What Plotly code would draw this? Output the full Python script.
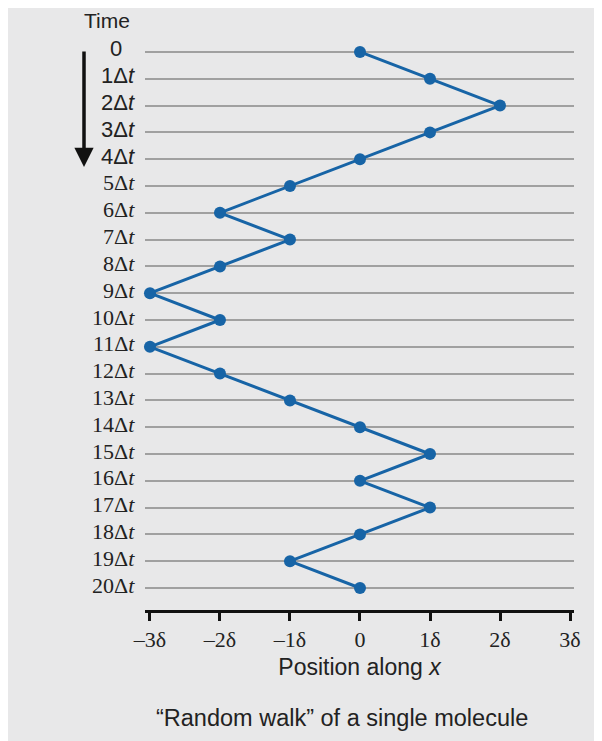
import plotly.graph_objects as go

# ---- data ----
time_steps = list(range(21))
positions = [0, 1, 2, 1, 0, -1, -2, -1, -2, -3, -2, -3, -2, -1, 0, 1, 0, 1, 0, -1, 0]
time_labels = ["0"] + [f"{i}Δ<i>t</i>" for i in range(1, 21)]
x_tick_vals = [-3, -2, -1, 0, 1, 2, 3]
x_tick_text = ["–3δ", "–2δ", "–1δ", "0", "1δ", "2δ", "3δ"]

SANS = "Liberation Sans, Arial, sans-serif"
SERIF = "Liberation Serif, Times New Roman, serif"
BG = "#e8e8e9"
BLUE = "#1764a6"

OFF = 8  # page body margin
W, H = 602 - OFF, 741 - OFF
L, R, T, B = 137, 28, 37, 131
pw = W - L - R
ph = H - T - B

def px_x(px):
    return (px - OFF - L) / pw

def px_y(py):
    return (H - B - (py - OFF)) / ph

fig = go.Figure()
fig.add_trace(go.Scatter(
    x=positions, y=time_steps, mode="lines+markers",
    line=dict(color=BLUE, width=3),
    marker=dict(color=BLUE, size=12),
    showlegend=False, hoverinfo="skip", cliponaxis=False,
))

annotations = []
for t, lab in zip(time_steps, time_labels):
    fam = SANS if t < 5 else SERIF
    annotations.append(dict(
        x=px_x(137), xref="paper", y=t, yref="y", text=lab,
        showarrow=False, xanchor="right", yanchor="middle",
        xshift=-13 if t == 0 else 0, yshift=3,
        font=dict(family=fam, size=22, color="#222"),
    ))

annotations.append(dict(
    x=px_x(107), y=px_y(8), xref="paper", yref="paper", text="Time",
    showarrow=False, xanchor="center", yanchor="top", borderpad=0,
    font=dict(family=SANS, size=21, color="#222"),
))
annotations.append(dict(
    x=px_x(84), y=px_y(167), xref="paper", yref="paper", text="",
    showarrow=True, ax=0, ay=-117, arrowhead=2, arrowsize=1.1,
    arrowwidth=3.5, arrowcolor="#111",
))
annotations.append(dict(
    x=px_x(342), y=px_y(718), xref="paper", yref="paper",
    text="“Random walk” of a single molecule",
    showarrow=False, xanchor="center", yanchor="middle",
    font=dict(family=SANS, size=23.5, color="#222"),
))

fig.update_layout(
    width=W, height=H,
    margin=dict(l=L, r=R, t=T, b=B),
    paper_bgcolor=BG, plot_bgcolor=BG,
    annotations=annotations,
    xaxis=dict(
        range=[-3.071, 3.057], tickvals=x_tick_vals, ticktext=x_tick_text,
        showgrid=False, zeroline=False, showline=True, linewidth=3, linecolor="#111",
        ticks="outside", ticklen=8, tickwidth=3, tickcolor="#111",
        tickfont=dict(family=SERIF, size=22, color="#222"),
        title=dict(text="Position along <i>x</i>", standoff=8,
                   font=dict(family=SANS, size=23, color="#222")),
    ),
    yaxis=dict(
        range=[20.82, -0.26], showticklabels=False, showgrid=True,
        gridcolor="#a0a0a0", gridwidth=2, dtick=1, tick0=0,
        zeroline=False, showline=False, ticks="",
    ),
)

fig.write_html("out.html")
